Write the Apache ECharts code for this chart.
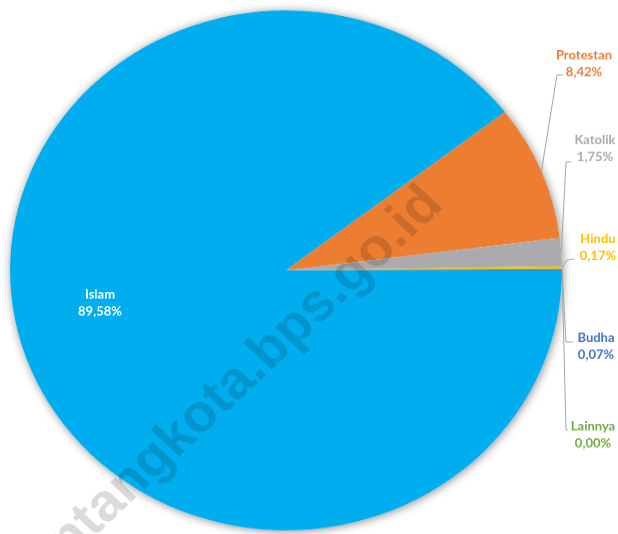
<!DOCTYPE html>
<html>
<head>
<meta charset="utf-8">
<script src="https://cdn.jsdelivr.net/npm/echarts@6/dist/echarts.min.js"></script>
<style>
html,body{margin:0;padding:0;background:#fff;overflow:hidden;width:618px;height:534px;}
#c{width:618px;height:567px;transform:scaleY(0.942);transform-origin:0 0;}
</style>
</head>
<body>
<div id="c"></div>
<script>
const categories = ['Islam', 'Protestan', 'Katolik', 'Hindu', 'Budha', 'Lainnya'];
const values = [89.58, 8.42, 1.75, 0.17, 0.07, 0.00];
const colors = ['#00AEEF', '#ED7D31', '#ABABAE', '#FFC000', '#4472C4', '#70AD47'];
const labelColors = ['#FFFFFF', '#ED7D31', '#ABABAE', '#FFC000', '#4472C4', '#70AD47'];

const S = 0.942; // vertical squash of the picture
// label centres and leader-line bends (picture coordinates)
const labelPos = [[100, 303.5], [584, 63.5], [595, 149], [598, 248], [596, 346.5], [593, 435]];
const bends = [null, [[557, 75], [563, 75]], [[566, 162], [571, 162]], [[567, 260], [574, 259]], [[566, 342], [573, 342]], [[566, 430], [568, 430]]];

const fmt = v => v.toFixed(2).replace('.', ',') + '%';

const data = categories.map((n, i) => ({
  name: n,
  value: values[i],
  itemStyle: { color: colors[i] },
  label: { color: labelColors[i] },
  labelLine: { show: i !== 0 }
}));

const chart = echarts.init(document.getElementById('c'));
chart.setOption({
  animation: false,
  backgroundColor: '#fff',
  graphic: [{
    type: 'text', x: 434, y: 208, rotation: Math.PI / 4, z: 100, silent: true,
    style: { text: 'bontangkota.bps.go.id', font: 'bold 56px "Liberation Sans"', fill: 'rgba(0,0,0,0.14)', align: 'right', verticalAlign: 'middle' }
  }],
  series: [
    {
      type: 'pie', silent: true, z: 1,
      center: [286, 287], radius: 276,
      label: { show: false }, labelLine: { show: false },
      itemStyle: { color: '#fff', shadowBlur: 10, shadowColor: 'rgba(0,0,0,0.45)', shadowOffsetX: 1, shadowOffsetY: 1 },
      data: [{ value: 1, name: '' }]
    },
    {
      type: 'pie', z: 2,
      center: [286, 287], radius: 276,
      startAngle: 0, clockwise: true,
      avoidLabelOverlap: false,
      itemStyle: { borderWidth: 0 },
      label: {
        show: true, position: 'outside',
        formatter: p => p.name + '\n' + fmt(p.value),
        fontFamily: 'Lato', fontWeight: 'bold', fontSize: 13, lineHeight: 18, align: 'center'
      },
      labelLine: { show: true, lineStyle: { color: '#A6A6A6', width: 1 } },
      labelLayout: function (p) {
        const i = p.dataIndex;
        const pos = labelPos[i];
        const res = { x: pos[0], y: pos[1] / S, align: 'center', verticalAlign: 'middle' };
        if (bends[i] && p.labelLinePoints) {
          res.labelLinePoints = [p.labelLinePoints[0]].concat(bends[i].map(q => [q[0], q[1] / S]));
        }
        return res;
      },
      data: data
    }
  ]
});
</script>
</body>
</html>
